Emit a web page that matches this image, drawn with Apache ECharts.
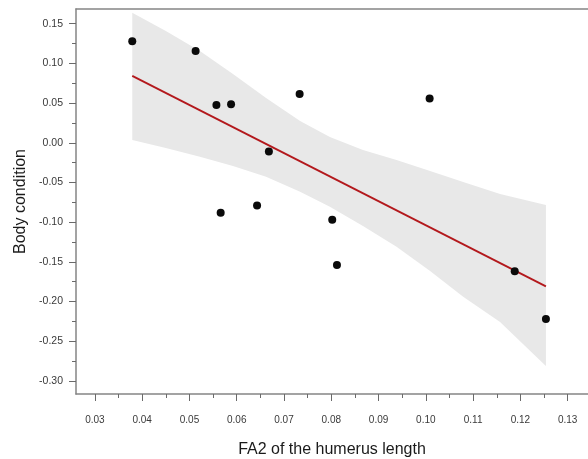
<!DOCTYPE html>
<html>
<head>
<meta charset="utf-8">
<script src="https://cdn.jsdelivr.net/npm/echarts@6/dist/echarts.min.js"></script>
<style>
  html, body { margin: 0; padding: 0; background: #fff; }
  #chart { width: 588px; height: 459px; }
</style>
</head>
<body>
<div id="chart"></div>
<script>
// Observations: FA2 of the humerus length vs. body condition
const faValues   = [0.0379, 0.0513, 0.0557, 0.0588, 0.0733, 0.0668, 0.1008, 0.0566, 0.0643, 0.0802, 0.0812, 0.1188, 0.1254];
const bodyValues = [0.1278, 0.1155, 0.0477, 0.0486, 0.0616, -0.0111, 0.0558, -0.0881, -0.0789, -0.0970, -0.1538, -0.1619, -0.2220];

// Fitted regression line (end points)
const fitX = [0.0379, 0.1254];
const fitY = [0.0843, -0.1808];

// Confidence band around the fit
const bandX     = [0.0379, 0.0450, 0.0522, 0.0592, 0.0662, 0.0734, 0.0797, 0.0867, 0.0938, 0.1009, 0.1079, 0.1157, 0.1254];
const bandUpper = [0.1639, 0.1408, 0.1156, 0.0867, 0.0564, 0.0274, 0.0073, -0.0091, -0.0217, -0.0355, -0.0494, -0.0645, -0.0784];
const bandLower = [0.0034, -0.0066, -0.0175, -0.0292, -0.0427, -0.0616, -0.0805, -0.1048, -0.1309, -0.1615, -0.1938, -0.2257, -0.2811];

// Tick positions
const xMajor = [0.03, 0.04, 0.05, 0.06, 0.07, 0.08, 0.09, 0.10, 0.11, 0.12, 0.13];
const xMinor = [0.035, 0.045, 0.055, 0.065, 0.075, 0.085, 0.095, 0.105, 0.115, 0.125];
const yMajor = [-0.30, -0.25, -0.20, -0.15, -0.10, -0.05, 0.00, 0.05, 0.10, 0.15];
const yMinor = [-0.275, -0.225, -0.175, -0.125, -0.075, -0.025, 0.025, 0.075, 0.125];

const X_MIN = 0.026, X_MAX = 0.1343;
const Y_MIN = -0.3164, Y_MAX = 0.1685;

const FONT = '"Liberation Sans", Arial, sans-serif';
const AXIS_COLOR = '#858585';
const TICK_COLOR = '#6a6a6a';

const chart = echarts.init(document.getElementById('chart'), null, { renderer: 'canvas' });

const hidden = { show: false };
const hiddenLine = { show: false, onZero: false };

chart.setOption({
  animation: false,
  backgroundColor: '#ffffff',
  grid: { left: 76, top: 9, right: 0, bottom: 65, containLabel: false, outerBoundsMode: 'none' },
  xAxis: [
    {
      type: 'value', position: 'bottom', min: X_MIN, max: X_MAX,
      axisLine: { show: true, onZero: false, lineStyle: { color: AXIS_COLOR, width: 1.5 } },
      axisTick: { show: true, customValues: xMajor, length: 7, lineStyle: { color: TICK_COLOR, width: 1 } },
      axisLabel: {
        show: true, customValues: xMajor, margin: 21,
        formatter: v => v.toFixed(2),
        fontFamily: FONT, fontSize: 10, color: '#3a3a3a'
      },
      splitLine: hidden,
      name: 'FA2 of the humerus length', nameLocation: 'middle', nameGap: 48,
      nameTextStyle: { fontFamily: FONT, fontSize: 16, color: '#1a1a1a' }
    },
    {
      type: 'value', position: 'bottom', min: X_MIN, max: X_MAX,
      axisLine: hiddenLine,
      axisTick: { show: true, customValues: xMinor, length: 4, lineStyle: { color: TICK_COLOR, width: 1 } },
      axisLabel: hidden, splitLine: hidden
    },
    {
      type: 'value', position: 'top', min: X_MIN, max: X_MAX,
      axisLine: { show: true, onZero: false, lineStyle: { color: AXIS_COLOR, width: 1.5 } },
      axisTick: hidden, axisLabel: hidden, splitLine: hidden
    }
  ],
  yAxis: [
    {
      type: 'value', position: 'left', min: Y_MIN, max: Y_MAX,
      axisLine: { show: true, onZero: false, lineStyle: { color: AXIS_COLOR, width: 1.5 } },
      axisTick: { show: true, customValues: yMajor, length: 7, lineStyle: { color: TICK_COLOR, width: 1 } },
      axisLabel: {
        show: true, customValues: yMajor, margin: 13,
        formatter: v => v.toFixed(2),
        fontFamily: FONT, fontSize: 10.5, color: '#3a3a3a'
      },
      splitLine: hidden,
      name: 'Body condition', nameLocation: 'middle', nameGap: 41, nameRotate: 90,
      nameTextStyle: { fontFamily: FONT, fontSize: 16, color: '#1a1a1a' }
    },
    {
      type: 'value', position: 'left', min: Y_MIN, max: Y_MAX,
      axisLine: hiddenLine,
      axisTick: { show: true, customValues: yMinor, length: 4, lineStyle: { color: TICK_COLOR, width: 1 } },
      axisLabel: hidden, splitLine: hidden
    }
  ],
  series: [
    {
      // shaded confidence band drawn as one polygon through the axis scales
      type: 'custom',
      xAxisIndex: 0, yAxisIndex: 0,
      data: [[bandX[0], bandUpper[0]]],
      silent: true,
      z: 1,
      renderItem: function (params, api) {
        const pts = [];
        for (let i = 0; i < bandX.length; i++) pts.push(api.coord([bandX[i], bandUpper[i]]));
        for (let i = bandX.length - 1; i >= 0; i--) pts.push(api.coord([bandX[i], bandLower[i]]));
        return {
          type: 'polygon',
          shape: { points: pts },
          style: { fill: '#e8e8e8', stroke: null }
        };
      }
    },
    {
      type: 'line',
      xAxisIndex: 0, yAxisIndex: 0,
      data: fitX.map((x, i) => [x, fitY[i]]),
      showSymbol: false, symbol: 'none',
      lineStyle: { color: '#b3181c', width: 1.8 },
      z: 2
    },
    {
      type: 'scatter',
      xAxisIndex: 0, yAxisIndex: 0,
      data: faValues.map((x, i) => [x, bodyValues[i]]),
      symbol: 'circle', symbolSize: 8,
      itemStyle: { color: '#0a0a0a', opacity: 1 },
      z: 3
    }
  ]
});
</script>
</body>
</html>
